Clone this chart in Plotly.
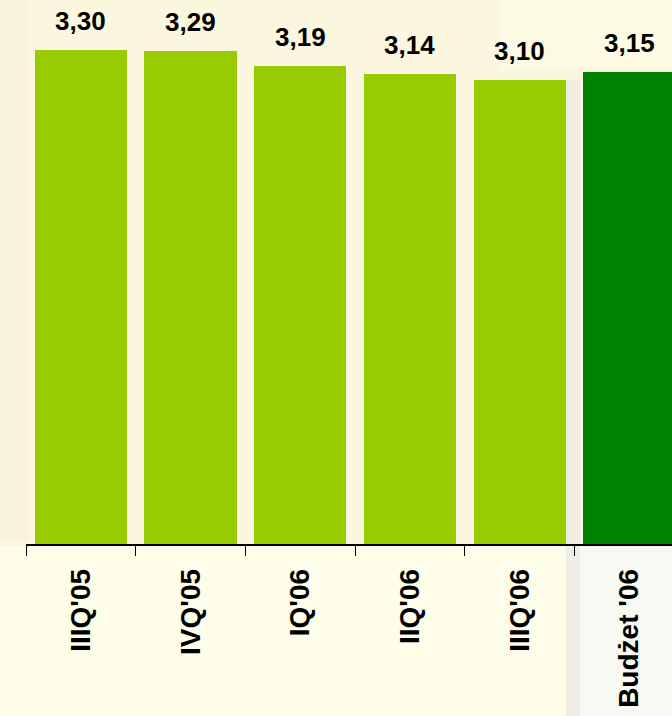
import plotly.graph_objects as go

categories = ["IIIQ'05", "IVQ'05", "IQ'06", "IIQ'06", "IIIQ'06", "Budżet '06"]
values = [3.30, 3.29, 3.19, 3.14, 3.10, 3.15]
labels = ["3,30", "3,29", "3,19", "3,14", "3,10", "3,15"]
colors = ["#99CC00", "#99CC00", "#99CC00", "#99CC00", "#99CC00", "#008000"]

W, H = 672, 716
L, B = 26, 172
pw = W - L
slot = 109.7

def px(xp):
    return (xp - L) / pw

def py(yp):
    return (H - B - yp) / (H - B)

fig = go.Figure()
fig.add_trace(go.Bar(
    x=categories, y=values, marker=dict(color=colors, line=dict(width=0)),
    width=0.84, hoverinfo="skip"
))

for c, v, t in zip(categories, values, labels):
    fig.add_annotation(x=c, y=v, text=t, showarrow=False, yanchor="bottom",
                       yshift=12,
                       font=dict(family="Liberation Sans, Arial", size=26, color="#000000", weight="bold"))

shapes = [
    dict(type="rect", xref="paper", yref="paper", x0=px(0), x1=px(28), y0=py(0), y1=py(540),
         fillcolor="#F7F3DB", line=dict(width=0), layer="below"),
    dict(type="rect", xref="paper", yref="paper", x0=px(0), x1=px(566), y0=py(716), y1=py(546),
         fillcolor="#FEFDEA", line=dict(width=0), layer="below"),
    dict(type="rect", xref="paper", yref="paper", x0=px(566), x1=px(672), y0=py(716), y1=py(546),
         fillcolor="#F9F9F4", line=dict(width=0), layer="below"),
    dict(type="rect", xref="paper", yref="paper", x0=px(566), x1=px(580), y0=py(716), y1=py(546),
         fillcolor="#EEEEE7", line=dict(width=0), layer="below"),
    dict(type="rect", xref="paper", yref="paper", x0=px(564), x1=px(581), y0=py(544), y1=py(80),
         fillcolor="#F1EFE0", line=dict(width=0), layer="below"),
    dict(type="rect", xref="paper", yref="paper", x0=px(500), x1=px(672), y0=py(70), y1=py(0),
         fillcolor="#FDFAE3", line=dict(width=0), layer="below"),
]

fig.update_layout(
    width=W, height=H,
    margin=dict(l=L, r=0, t=0, b=B, pad=0),
    paper_bgcolor="#FBF7DF",
    plot_bgcolor="rgba(0,0,0,0)",
    showlegend=False,
    bargap=0,
    shapes=shapes,
    xaxis=dict(
        type="category", range=[-0.5, -0.5 + pw / slot],
        showline=True, linecolor="#000000", linewidth=1.5,
        ticks="outside", tickson="boundaries", ticklen=10, tickwidth=1.3, tickcolor="#000000",
        tickangle=-90, ticklabelstandoff=12,
        tickfont=dict(family="Liberation Sans, Arial", size=28, color="#000000", weight="bold"),
        showgrid=False, zeroline=False, fixedrange=True,
    ),
    yaxis=dict(range=[0, (H - B) / 149.7], visible=False, showgrid=False, zeroline=False, fixedrange=True),
)

fig.write_html("out.html", config={"displayModeBar": False},
               post_script="document.body.style.margin='0';document.body.style.overflow='hidden';")
